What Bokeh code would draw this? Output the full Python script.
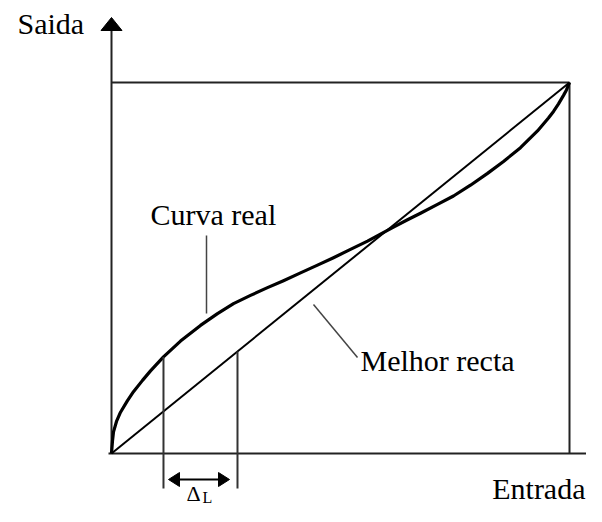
from bokeh.plotting import figure
from bokeh.models import Range1d
from bokeh.core.properties import value
from bokeh.embed import file_html
from bokeh.resources import INLINE

# ---- data (normalised input / output) ----
entrada = [0.0, 0.0022, 0.0044, 0.0109, 0.0197, 0.0349, 0.0480, 0.0677, 0.0852,
           0.1135, 0.1507, 0.1943, 0.2314, 0.2664, 0.3035, 0.3406, 0.3755,
           0.4127, 0.4498, 0.4847, 0.5218, 0.5590, 0.5873, 0.6157, 0.6463,
           0.6747, 0.7118, 0.7467, 0.7838, 0.8210, 0.8559, 0.8930, 0.9301,
           0.9541, 0.9651, 0.9760, 0.9869, 0.9934, 1.0]
saida = [0.0, 0.0345, 0.0583, 0.0864, 0.1113, 0.1427, 0.1666, 0.1971, 0.2227,
         0.2604, 0.3030, 0.3452, 0.3770, 0.4039, 0.4261, 0.4471, 0.4658,
         0.4868, 0.5078, 0.5278, 0.5501, 0.5725, 0.5913, 0.6103, 0.6301,
         0.6477, 0.6714, 0.6941, 0.7232, 0.7550, 0.7872, 0.8243, 0.8695,
         0.9042, 0.9220, 0.9423, 0.9653, 0.9799, 1.0]
recta_x = [0.0, 1.0]
recta_y = [0.0, 1.0]
delta_x = [0.1135, 0.2751]   # entrada where the deviation is measured

labels = {"y": "Saida", "x": "Entrada", "curve": "Curva real", "line": "Melhor recta"}

# ---- layout helpers (reference pixel -> data) ----
X0, Y0, SX, SY = 111.0, 453.0, 458.0, 371.0
def X(px):
    return (px - X0) / SX
def Y(py):
    return (Y0 - py) / SY

W, H = 586, 506
p = figure(width=W, height=H, output_backend="svg", toolbar_location=None,
           x_range=Range1d(X(0), X(W)), y_range=Range1d(Y(H), Y(0)),
           min_border=0, outline_line_color=None, background_fill_color="white",
           border_fill_color="white")
p.axis.visible = False
p.grid.visible = False

ax = "#222222"
# axes
p.line([X(111), X(111)], [Y(453), Y(29)], line_color=ax, line_width=2)
p.line([X(108), X(W)], [Y(453), Y(453)], line_color=ax, line_width=2)
p.patch([X(100.5), X(111), X(121.5)], [Y(30), Y(17), Y(30)], fill_color="black", line_color="black")
# frame lines (top and right)
p.line([X(111), X(569)], [Y(82), Y(82)], line_color=ax, line_width=2)
p.line([X(569), X(569)], [Y(82), Y(453)], line_color=ax, line_width=2)

# best line & real curve
p.line(recta_x, recta_y, line_color="black", line_width=2)
p.line(entrada, saida, line_color="black", line_width=3.2, line_join="round")

# deviation markers
top_left = saida[entrada.index(delta_x[0])]
top_right = delta_x[1]
p.line([delta_x[0], delta_x[0]], [top_left, Y(488)], line_color="#333333", line_width=2)
p.line([delta_x[1], delta_x[1]], [top_right, Y(488)], line_color="#333333", line_width=2)
ya = 479
p.line([X(175), X(222)], [Y(ya), Y(ya)], line_color="black", line_width=2)
p.patch([X(168), X(179), X(179)], [Y(ya), Y(ya - 7), Y(ya + 7)], fill_color="black", line_color="black")
p.patch([X(229), X(218), X(218)], [Y(ya), Y(ya - 7), Y(ya + 7)], fill_color="black", line_color="black")

# leader lines
p.line([X(206), X(206)], [Y(235), Y(313)], line_color="#444444", line_width=1.5)
p.line([X(313), X(357)], [Y(304), Y(357)], line_color="#444444", line_width=1.5)

font = value("Liberation Serif")
def txt(px, py, s, size=30, align="left"):
    # py is the wanted visual baseline; the SVG text renders ~0.34 em lower
    p.text([X(px)], [Y(py - 0.34 * size)], text=[s], text_font=font,
           text_font_size=f"{size}px", text_color="black", text_align=align,
           text_baseline="alphabetic")

txt(17, 33, labels["y"])
txt(150, 224, labels["curve"])
txt(360, 370, labels["line"])
txt(585, 498, labels["x"], align="right")
txt(186, 500, "Δ", size=22)
txt(202, 502, "L", size=16)

open("out.html", "w").write(file_html(p, INLINE))
